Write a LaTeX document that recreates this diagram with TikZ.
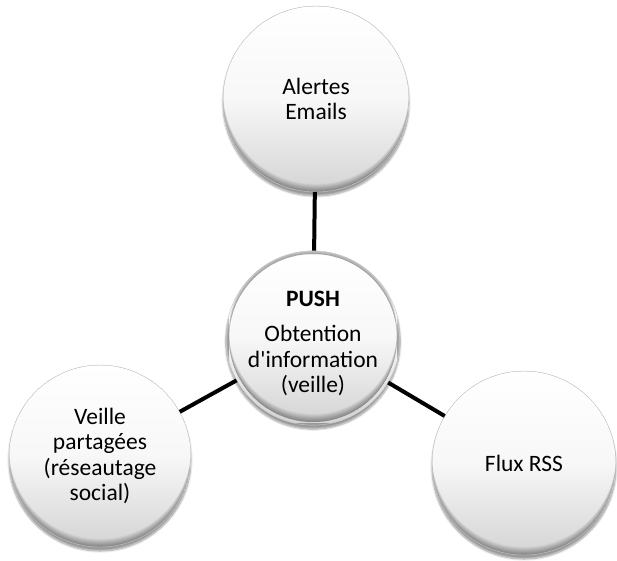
\documentclass[tikz,border=0pt]{standalone}
\usepackage{fontspec}
\setmainfont{Carlito}
\usetikzlibrary{shadows.blur}
\begin{document}
\begin{tikzpicture}[x=1pt,y=1pt,
  bubble/.style={circle, draw=black!22, line width=0.4pt, minimum size=2*#1,
    align=center, inner sep=0pt, font=\fontsize{23.5}{25.5}\selectfont,
    blur shadow={shadow xshift=0pt, shadow yshift=-4pt, shadow blur steps=8, shadow opacity=40},
    path picture={
      \coordinate (pc) at (path picture bounding box.center);
      \shade[top color=white, bottom color=black!17, middle color=black!3]
        ([shift={(-#1,-#1)}]pc) rectangle ([shift={(#1,#1)}]pc);
      \foreach \k in {1,...,20}{
        \fill[black, fill opacity=0.018, even odd rule]
          (pc) circle (#1) ([yshift=\k*0.4pt]pc) circle (#1);
      }
    }},
  link/.style={line width=4pt, black}]
\useasboundingbox (0,0) rectangle (617,-560);
\node[bubble=93pt] (top) at (316,-99) {Alertes\\Emails};
\node[bubble=84pt] (mid) at (313,-338)
  {\rule{0pt}{26pt}\textbf{PUSH}\\[10pt]Obtention\\d\textquotesingle information\\(veille)};
\node[bubble=91pt] (left) at (100,-456)
  {Veille\\partagées\\(réseautage\\social)};
\node[bubble=92pt] (right) at (524,-463) {Flux RSS};
\draw[link] (mid) -- (top);
\draw[link] (mid) -- (left);
\draw[link] (mid) -- (right);
\end{tikzpicture}
\end{document}
